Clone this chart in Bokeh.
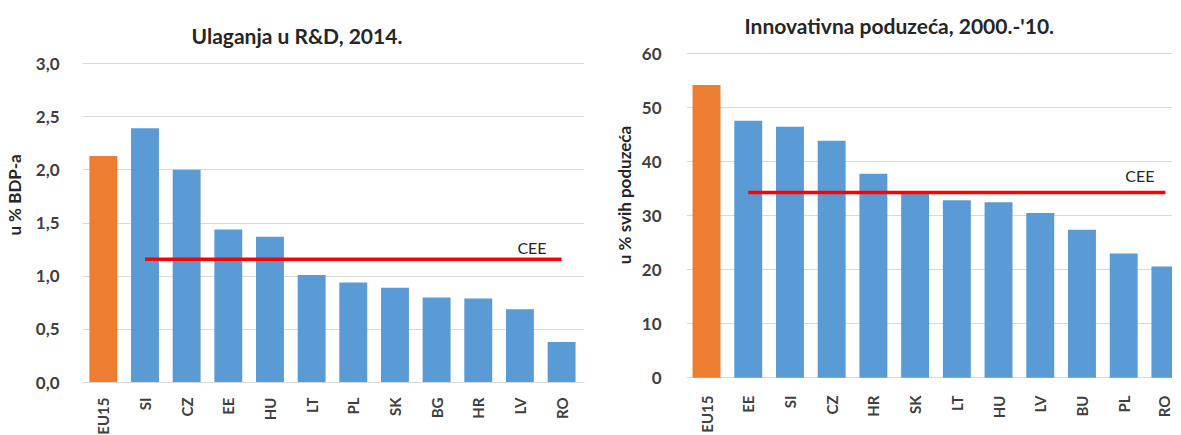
import numpy as np
from bokeh.plotting import figure
from bokeh.layouts import row
from bokeh.models import FixedTicker, ColumnDataSource, Range1d
from bokeh.core.properties import value
from bokeh.embed import file_html
from bokeh.resources import INLINE

# ---------------- data ----------------
left_title = "Ulaganja u R&D, 2014."
left_ylabel = "u % BDP-a"
left_cats = ["EU15", "SI", "CZ", "EE", "HU", "LT", "PL", "SK", "BG", "HR", "LV", "RO"]
left_vals = [2.13, 2.39, 2.00, 1.44, 1.37, 1.01, 0.94, 0.89, 0.80, 0.79, 0.69, 0.38]
left_cee = 1.16
left_ticks = [0.0, 0.5, 1.0, 1.5, 2.0, 2.5, 3.0]
left_tick_labels = ["0,0", "0,5", "1,0", "1,5", "2,0", "2,5", "3,0"]

right_title = "Innovativna poduzeća, 2000.-'10."
right_ylabel = "u % svih poduzeća"
right_cats = ["EU15", "EE", "SI", "CZ", "HR", "SK", "LT", "HU", "LV", "BU", "PL", "RO"]
right_vals = [54.2, 47.6, 46.5, 43.9, 37.8, 34.1, 32.9, 32.5, 30.5, 27.4, 23.0, 20.6]
right_cee = 34.3
right_ticks = [0, 10, 20, 30, 40, 50, 60]
right_tick_labels = ["0", "10", "20", "30", "40", "50", "60"]

BLUE = "#5B9BD5"
ORANGE = "#ED7D31"
RED = "#FF0000"
FONT = "Lato"
TXT = "#404040"

FH = 375  # shared frame height (the row aligns the two frames)


def yrange(ticks, axis_px, below_px):
    """Range so that ticks[0]..ticks[-1] span axis_px pixels, with the
    frame bottom below_px pixels under the first tick and titles room above."""
    ppu = axis_px / (ticks[-1] - ticks[0])
    lo = ticks[0] - below_px / ppu
    return Range1d(lo, lo + FH / ppu)


def make_chart(title, ylabel, cats, vals, cee, ticks, tick_labels, yr, xr,
               fw, mb_left, mb_right, title_dx, title_dy, ylabel_standoff,
               tick_standoff, xlabel_standoff, xaxis_line,
               cee_xoff, cee_yoff):
    x = np.arange(len(cats))
    colors = [ORANGE] + [BLUE] * (len(cats) - 1)
    src = ColumnDataSource(dict(x=x, top=vals, color=colors))
    p = figure(frame_width=fw, frame_height=FH, x_range=xr, y_range=yr,
               output_backend="svg", toolbar_location=None,
               min_border_left=mb_left, min_border_right=mb_right,
               min_border_top=7, min_border_bottom=52)

    p.outline_line_color = None
    p.xgrid.grid_line_color = None
    p.ygrid.grid_line_color = "#D9D9D9"
    p.ygrid.grid_line_width = 1.2
    p.ygrid.ticker = FixedTicker(ticks=ticks)

    p.vbar(x="x", top="top", width=0.67, bottom=0, color="color",
           line_color=None, source=src)
    p.line(x=[x[1], x[-1]], y=[cee, cee], line_color=RED, line_width=3.5)
    p.text(x=[x[-1]], y=[cee], text=["CEE"], text_align="right",
           text_baseline="alphabetic", x_offset=cee_xoff, y_offset=cee_yoff,
           text_font=value(FONT), text_font_size="16px", text_color="#262626")

    # chart title, anchored to the top-left corner of the frame
    p.text(x=[xr.start], y=[yr.end], text=[title], text_align="left",
           text_baseline="alphabetic", x_offset=title_dx, y_offset=title_dy,
           text_font=value(FONT), text_font_size="21px",
           text_font_style="bold", text_color="#262626")

    ya = p.yaxis[0]
    ya.ticker = FixedTicker(ticks=ticks)
    ya.major_label_overrides = {t: l for t, l in zip(ticks, tick_labels)}
    ya.axis_line_color = None
    ya.major_tick_line_color = None
    ya.minor_tick_line_color = None
    ya.major_label_standoff = tick_standoff
    ya.major_label_text_font = FONT
    ya.major_label_text_font_size = "17px"
    ya.major_label_text_font_style = "bold"
    ya.major_label_text_color = TXT
    ya.axis_label = ylabel
    ya.axis_label_standoff = ylabel_standoff
    ya.axis_label_text_font = FONT
    ya.axis_label_text_font_size = "17px"
    ya.axis_label_text_font_style = "bold"
    ya.axis_label_text_color = "#262626"

    xa = p.xaxis[0]
    xa.ticker = FixedTicker(ticks=list(x))
    xa.major_label_overrides = {int(i): c for i, c in zip(x, cats)}
    xa.axis_line_color = "#D9D9D9" if xaxis_line else None
    xa.axis_line_width = 1.2
    xa.major_tick_line_color = None
    xa.minor_tick_line_color = None
    xa.major_label_orientation = np.pi / 2
    xa.major_label_standoff = xlabel_standoff
    xa.major_label_text_font = FONT
    xa.major_label_text_font_size = "15px"
    xa.major_label_text_font_style = "bold"
    xa.major_label_text_color = TXT
    return p


p1 = make_chart(left_title, left_ylabel, left_cats, left_vals, left_cee,
                left_ticks, left_tick_labels,
                yrange(left_ticks, 319, 0), Range1d(-0.5, 11.55),
                fw=502, mb_left=75, mb_right=15,
                title_dx=109, title_dy=28, ylabel_standoff=8,
                tick_standoff=17, xlabel_standoff=9, xaxis_line=True,
                cee_xoff=-15, cee_yoff=-12)

p2 = make_chart(right_title, right_ylabel, right_cats, right_vals, right_cee,
                right_ticks, right_tick_labels,
                yrange(right_ticks, 324, 4.7), Range1d(-0.48, 11.17),
                fw=486, mb_left=87, mb_right=0,
                title_dx=58, title_dy=18, ylabel_standoff=4,
                tick_standoff=19, xlabel_standoff=7, xaxis_line=False,
                cee_xoff=-11, cee_yoff=-17)

layout = row(p1, p2, spacing=0)
open("out.html", "w").write(file_html(layout, INLINE))
